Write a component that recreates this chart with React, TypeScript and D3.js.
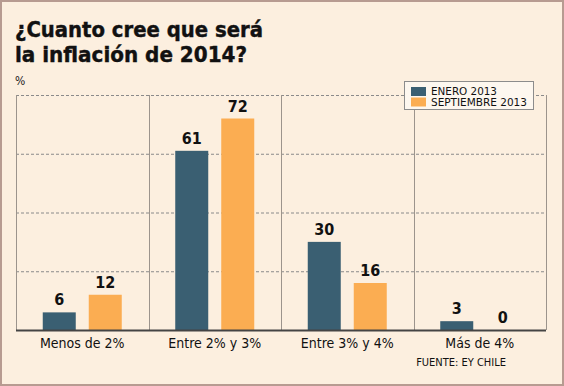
import React, { useEffect, useRef } from 'react';
import * as d3 from 'd3';

const categories = ['Menos de 2%', 'Entre 2% y 3%', 'Entre 3% y 4%', 'Más de 4%'];
const seriesNames = ['ENERO 2013', 'SEPTIEMBRE 2013'];
const enero = [6, 61, 30, 3];
const septiembre = [12, 72, 16, 0];
const gridTicks = [20, 40, 60, 80];
const colors = ['#3a5f72', '#fbad52'];

const W = 564;
const H = 386;
const FONT = '"DejaVu Sans Condensed", "DejaVu Sans", sans-serif';

const App = () => {
  const ref = useRef<SVGSVGElement>(null);

  useEffect(() => {
    const svg = d3.select(ref.current);
    svg.selectAll('*').remove();

    svg
      .append('rect')
      .attr('x', 1)
      .attr('y', 1)
      .attr('width', W - 2)
      .attr('height', H - 2)
      .attr('fill', '#fcefdf')
      .attr('stroke', '#b79b91')
      .attr('stroke-width', 2);

    // title
    const titleLines = [
      { t: '¿Cuanto cree que será', y: 37, len: 248 },
      { t: 'la inflación de 2014?', y: 62, len: 232 },
    ];
    svg
      .append('g')
      .selectAll('text')
      .data(titleLines)
      .enter()
      .append('text')
      .attr('x', 15)
      .attr('y', d => d.y)
      .attr('textLength', d => d.len)
      .attr('lengthAdjust', 'spacingAndGlyphs')
      .attr('font-family', FONT)
      .attr('font-weight', 'bold')
      .attr('font-size', 21.5)
      .attr('stroke', '#111')
      .attr('stroke-width', 0.4)
      .attr('fill', '#111')
      .text(d => d.t);

    svg
      .append('text')
      .attr('x', 15)
      .attr('y', 85)
      .attr('font-family', FONT)
      .attr('font-size', 12)
      .attr('fill', '#222')
      .text('%');

    const left = 16;
    const right = 546;
    const top = 95;
    const bottom = 330;

    const x = d3.scaleBand().domain(categories).range([left, right]);
    const y = d3.scaleLinear().domain([0, 80]).range([bottom, top]);

    // horizontal dashed gridlines
    svg
      .append('g')
      .selectAll('line')
      .data(gridTicks)
      .enter()
      .append('line')
      .attr('x1', left)
      .attr('x2', right)
      .attr('y1', d => y(d) + 0.5)
      .attr('y2', d => y(d) + 0.5)
      .attr('stroke', '#8a8a8a')
      .attr('stroke-dasharray', '3,2')
      .attr('stroke-width', 1);

    // vertical separators
    const seps = [left, ...categories.map(c => (x(c) as number) + x.bandwidth())];
    svg
      .append('g')
      .selectAll('line')
      .data(seps)
      .enter()
      .append('line')
      .attr('x1', d => Math.round(d) + 0.5)
      .attr('x2', d => Math.round(d) + 0.5)
      .attr('y1', top)
      .attr('y2', bottom)
      .attr('stroke', '#9c948c')
      .attr('stroke-width', 1);

    const series = [enero, septiembre];
    const barW = 33;
    const offsets = [-23, 23];

    series.forEach((vals, si) => {
      const g = svg.append('g');
      g.selectAll('rect')
        .data(vals)
        .enter()
        .append('rect')
        .attr('x', (d, i) => (x(categories[i]) as number) + x.bandwidth() / 2 + offsets[si] - barW / 2)
        .attr('y', d => y(d))
        .attr('width', barW)
        .attr('height', d => bottom - y(d))
        .attr('fill', colors[si]);
      g.selectAll('text')
        .data(vals)
        .enter()
        .append('text')
        .attr('x', (d, i) => (x(categories[i]) as number) + x.bandwidth() / 2 + offsets[si])
        .attr('y', d => y(d) - 7)
        .attr('text-anchor', 'middle')
        .attr('font-family', FONT)
        .attr('font-weight', 'bold')
        .attr('font-size', 16)
        .attr('fill', '#111')
        .text(d => d);
    });

    // baseline
    svg
      .append('line')
      .attr('x1', left)
      .attr('x2', right)
      .attr('y1', bottom + 0.5)
      .attr('y2', bottom + 0.5)
      .attr('stroke', '#444')
      .attr('stroke-width', 2);

    // category labels
    svg
      .append('g')
      .selectAll('text')
      .data(categories)
      .enter()
      .append('text')
      .attr('x', d => (x(d) as number) + x.bandwidth() / 2)
      .attr('y', 348)
      .attr('text-anchor', 'middle')
      .attr('font-family', FONT)
      .attr('font-size', 14)
      .attr('fill', '#111')
      .text(d => d);

    svg
      .append('text')
      .attr('x', 506)
      .attr('y', 366)
      .attr('text-anchor', 'end')
      .attr('font-family', FONT)
      .attr('font-size', 11)
      .attr('fill', '#111')
      .text('FUENTE: EY CHILE');

    // legend
    const legendTextLen = [66, 96];
    const legend = svg.append('g');
    legend
      .append('rect')
      .attr('x', 404.5)
      .attr('y', 81.5)
      .attr('width', 129)
      .attr('height', 28)
      .attr('fill', '#fdf7ef')
      .attr('stroke', '#8c8c8c');
    seriesNames.forEach((name, i) => {
      legend
        .append('rect')
        .attr('x', 411)
        .attr('y', 87 + i * 10.5)
        .attr('width', 15)
        .attr('height', 9)
        .attr('fill', colors[i]);
      legend
        .append('text')
        .attr('x', 431)
        .attr('y', 95.5 + i * 10.5)
        .attr('textLength', legendTextLen[i])
        .attr('lengthAdjust', 'spacingAndGlyphs')
        .attr('font-family', FONT)
        .attr('font-size', 9)
        .attr('transform', `translate(0, ${95.5 + i * 10.5}) scale(1, 1.2) translate(0, ${-(95.5 + i * 10.5)})`)
        .attr('fill', '#111')
        .text(name);
    });
  }, []);

  return (
    <div style={{ position: 'absolute', left: 0, top: 0 }}>
      <svg ref={ref} width={W} height={H} style={{ display: 'block' }} />
    </div>
  );
};

export default App;
